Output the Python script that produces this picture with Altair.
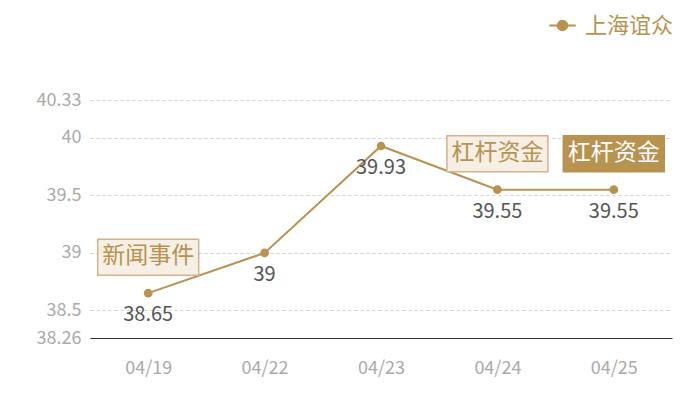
import altair as alt
import pandas as pd

dates = ["04/19", "04/22", "04/23", "04/24", "04/25"]
values = [38.65, 39.0, 39.93, 39.55, 39.55]
series = ["上海谊众"] * 5
labels = ["38.65", "39", "39.93", "39.55", "39.55"]

ann_dates = ["04/19", "04/24", "04/25"]
ann_values = [38.65, 39.55, 39.55]
ann_texts = ["新闻事件", "杠杆资金", "杠杆资金"]
ann_dark = [False, False, True]

y_ticks = [38.26, 38.5, 39, 39.5, 40, 40.33]

GOLD = "#b8924f"
FONT = "Noto Sans CJK SC"

df = pd.DataFrame({"date": dates, "value": values, "series": series, "label": labels})
ann = pd.DataFrame({"date": ann_dates, "value": ann_values, "text": ann_texts, "dark": ann_dark})

x = alt.X("date:N", sort=dates, title=None,
          scale=alt.Scale(paddingInner=0, paddingOuter=0),
          axis=alt.Axis(labelAngle=0, labelColor="#aaaaaa", labelFontSize=18,
                        labelFont=FONT, labelPadding=21, ticks=False,
                        domainColor="#333333", grid=False))
y = alt.Y("value:Q", title=None,
          scale=alt.Scale(domain=[38.26, 40.33], nice=False, zero=False),
          axis=alt.Axis(values=y_ticks, labelExpr="format(datum.value, '.4~g')",
                        labelColor="#aaaaaa", labelFontSize=18,
                        labelFont=FONT, labelPadding=9, ticks=False, domain=False,
                        gridColor="#d0d0d0", gridDash=[3, 3]))

legend_symbol = "M-1,0L1,0M0.36,0A0.36,0.36 0 1,1 -0.36,0A0.36,0.36 0 1,1 0.36,0Z"

line = alt.Chart(df).mark_line(strokeWidth=2).encode(
    x=x, y=y,
    color=alt.Color("series:N", scale=alt.Scale(range=[GOLD]),
                    legend=alt.Legend(title=None, orient="none", legendX=458, legendY=-89,
                                      labelFontSize=22, labelFont=FONT, labelColor=GOLD,
                                      labelLimit=0,
                                      symbolType=legend_symbol, symbolSize=700,
                                      symbolFillColor=GOLD, symbolStrokeColor=GOLD,
                                      symbolStrokeWidth=2, labelOffset=8)),
)
pts = alt.Chart(df).mark_circle(size=75, opacity=1, color=GOLD).encode(x=x, y=y)
vals = alt.Chart(df).mark_text(dy=22, fontSize=20, font=FONT, color="#555555").encode(
    x=x, y=y, text="label:N")

box_shape = "M-1,-0.356L1,-0.356L1,0.356L-1,0.356Z"
boxes = alt.Chart(ann).mark_point(shape=box_shape, size=101 * 101, yOffset=-36,
                                  filled=True, opacity=1, strokeWidth=1.5).encode(
    x=x, y=y,
    fill=alt.condition("datum.dark", alt.value(GOLD), alt.value("#f5efe6")),
    stroke=alt.condition("datum.dark", alt.value(GOLD), alt.value("#d2b48c")),
)
btext = alt.Chart(ann).mark_text(dy=-37, fontSize=23, font=FONT, baseline="middle").encode(
    x=x, y=y, text="text:N",
    color=alt.condition("datum.dark", alt.value("#ffffff"), alt.value(GOLD)),
)

chart = alt.layer(line, pts, vals, boxes, btext).properties(
    width=582, height=238,
    autosize=alt.AutoSizeParams(type="none"),
    padding={"left": 82, "top": 92, "right": 16, "bottom": 50},
).configure_view(stroke=None)

chart.save("out.html", embed_options={"renderer": "svg", "actions": False})
